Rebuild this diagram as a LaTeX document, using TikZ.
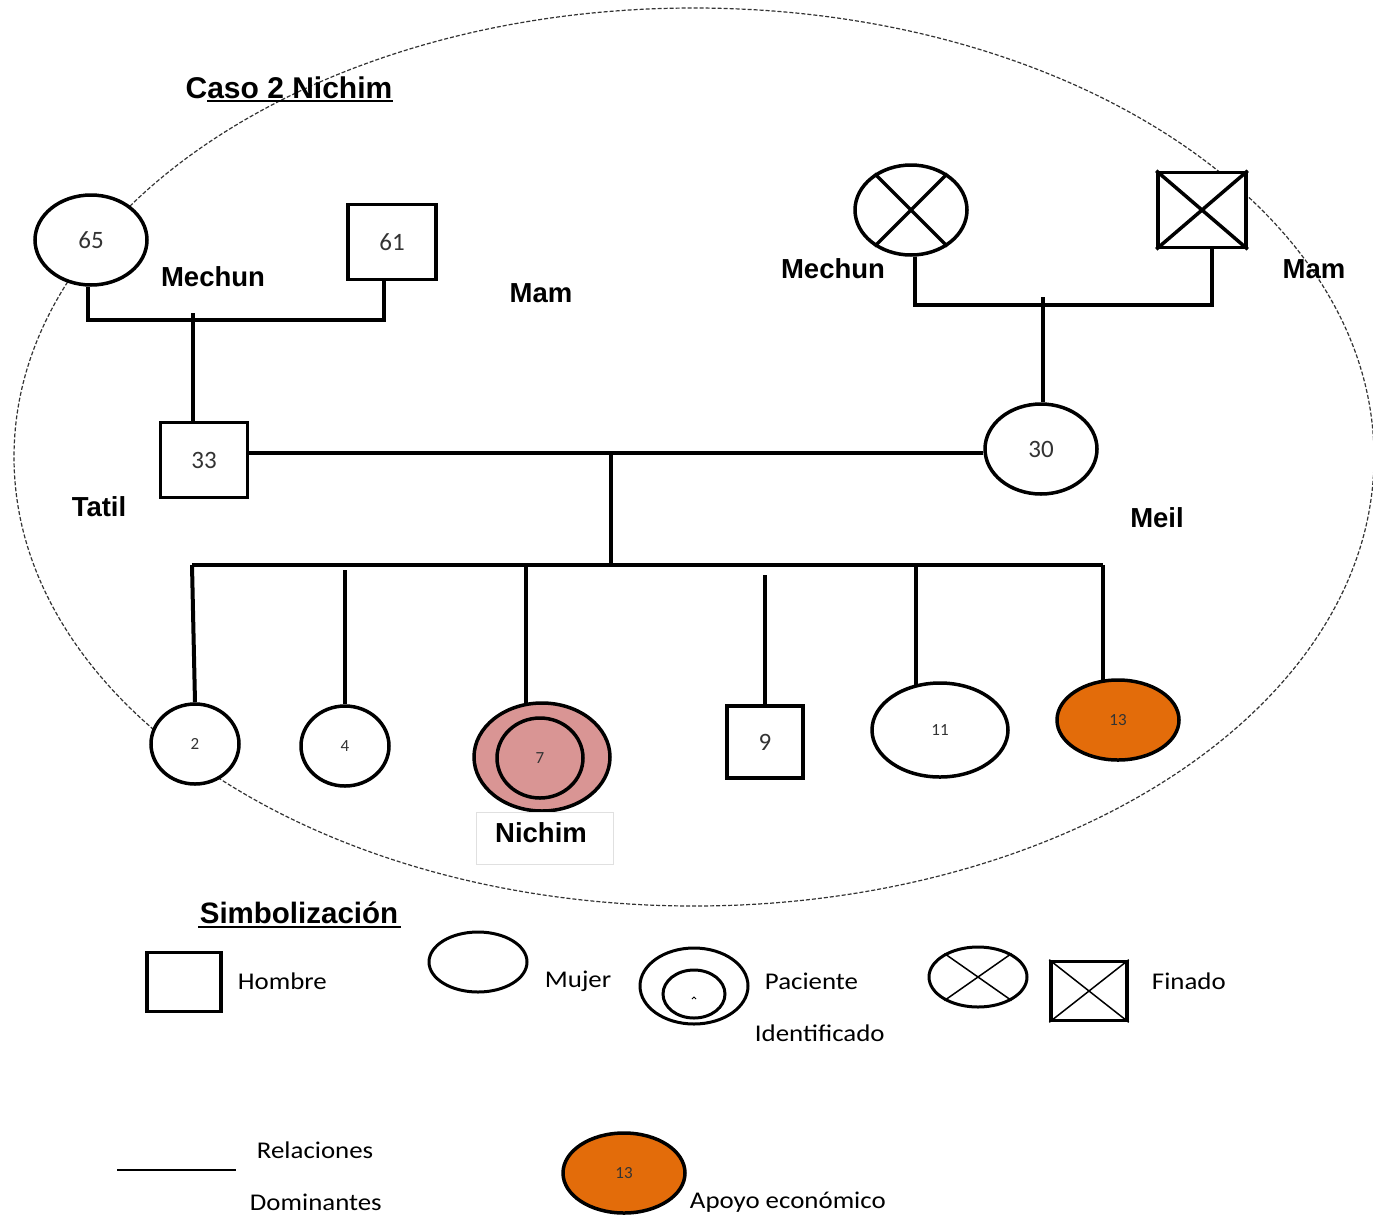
\documentclass[tikz,border=0pt]{standalone}
\usepackage{fontspec}
\setmainfont{Carlito}
\newfontfamily\labelfont{Liberation Sans}
\usetikzlibrary{shapes.geometric}
\definecolor{patientpink}{HTML}{D99594}
\definecolor{supportorange}{HTML}{E36C0A}
\definecolor{numgray}{HTML}{333333}
\tikzset{
  rel/.style={line width=4pt},
  fem/.style={ellipse, draw, line width=3.5pt, inner sep=0pt, fill=white},
  male/.style={rectangle, draw, line width=3.5pt, inner sep=0pt, fill=white},
  age/.style={font=\fontsize{25}{25}\selectfont, text=numgray},
  agesmall/.style={font=\fontsize{17}{17}\selectfont, text=numgray},
  tag/.style={font=\labelfont\bfseries\fontsize{27.5}{27.5}\selectfont},
  legtext/.style={font=\fontsize{24}{24}\selectfont, xscale=1.12, transform shape},
  crossline/.style={line width=3.5pt},
}
\begin{document}
\begin{tikzpicture}[x=1pt,y=-1pt]
\fill[white] (0,0) rectangle (1373,1219);
\useasboundingbox (0,0) rectangle (1373,1219);

% household boundary
\draw[line width=1.2pt, dash pattern=on 4pt off 2pt, black!80] (694,457) ellipse [x radius=680, y radius=449];

% title
\node[font=\labelfont\bfseries\fontsize{30}{30}\selectfont] (title) at (289,88) {Caso 2 Nichim};
\draw[line width=1.5pt] (207,101) -- (393,101);

% paternal grandparents
\node[fem, minimum width=112pt, minimum height=90pt, age] (g65) at (91,240) {65};
\node[male, minimum width=88pt, minimum height=75pt, age] (g61) at (392,242) {61};
\node[tag] (mech1) at (213,277) {Mechun};
\node[tag] (mam1) at (541,293) {Mam};
\coordinate (b1) at (193,320);
\draw[rel] ([xshift=-3pt]g65.south) -- ([xshift=-3pt]g65.south |- b1) -| ([xshift=-8pt]g61.south);

% maternal grandparents (deceased)
\node[fem, minimum width=112pt, minimum height=90pt] (g2f) at (911,210) {};
\draw[crossline] (g2f.45) -- (g2f.225) (g2f.135) -- (g2f.315);
\node[male, minimum width=88pt, minimum height=75pt] (g2m) at (1202,210) {};
\draw[crossline] (g2m.north west) -- (g2m.south east) (g2m.north east) -- (g2m.south west);
\node[tag] (mech2) at (833,269) {Mechun};
\node[tag] (mam2) at (1314,269) {Mam};
\coordinate (b2) at (1043,305);
\draw[rel] ([xshift=4pt]g2f.south) -- ([xshift=4pt]g2f.south |- b2) -| ([xshift=10pt]g2m.south);

% parents
\node[male, minimum width=87pt, minimum height=75pt, age] (p33) at (204,460) {33};
\node[fem, minimum width=112pt, minimum height=90pt, age] (p30) at (1041,449) {30};
\node[tag] (tatil) at (99,507) {Tatil};
\node[tag] (meil) at (1157,518) {Meil};
\draw[rel] ([yshift=7pt]b1) -- (b1 |- p33.north);
\draw[rel] ([yshift=8pt]b2) -- (b2 |- p30.north);
\coordinate (m) at (611,453);
\draw[rel] (p33.east |- m) -- (p30.west |- m);

% children
\coordinate (sb) at (611,565);
\draw[rel] (m) -- (sb);
\draw[rel] (192,565) -- (1103,565);

\node[fem, minimum width=88pt, minimum height=80pt, agesmall] (c2) at (195,744) {2};
\node[fem, minimum width=88pt, minimum height=80pt, agesmall] (c4) at (345,746) {4};
\node[fem, minimum width=136pt, minimum height=108pt, fill=patientpink] (c7) at (542,757) {};
\node[ellipse, draw, line width=3.5pt, minimum width=86pt, minimum height=80pt, inner sep=0pt, agesmall] (c7i) at (540,758) {7};
\node[male, minimum width=76pt, minimum height=72pt, age] (c9) at (765,742) {9};
\node[fem, minimum width=136pt, minimum height=94pt, agesmall] (c11) at (940,730) {11};
\node[fem, minimum width=122pt, minimum height=80pt, fill=supportorange, agesmall] (c13) at (1118,720) {13};

\draw[rel] (192,565) -- (c2.north);
\draw[rel] (345,570) -- (c4.north);
\draw[rel] (526,565) -- (526,705);
\draw[rel] (765,575) -- (c9.north);
\draw[rel] (916,565) -- (916,685);
\draw[rel] (1103,565) -- (1103,682);

\draw[black!12, line width=1pt] (476,812) rectangle (613,864);
\node[tag] (nichim) at (541,833) {Nichim};

% legend
\node[font=\labelfont\bfseries\fontsize{29.5}{29.5}\selectfont] (simb) at (299,913) {Simbolización};
\draw[line width=1.5pt] (198,927) -- (401,927);

\node[male, minimum width=74pt, minimum height=59pt] (lm) at (184,982) {};
\node[legtext, anchor=west] (lmt) at (234,981) {Hombre};
\node[fem, line width=3pt, minimum width=98pt, minimum height=60pt] (lf) at (478,962) {};
\node[legtext, anchor=west] (lft) at (541,981) {Mujer};
\node[fem, line width=3pt, minimum width=108pt, minimum height=76pt] (lp) at (694,986) {};
\node[ellipse, draw, line width=3pt, minimum width=62pt, minimum height=48pt, inner sep=0pt] (lpi) at (694,994) {};
\draw[line width=0.8pt] (692,999) -- (694,997) -- (696,999);
\node[legtext, anchor=west] (lpt) at (761,981) {Paciente};
\node[legtext, anchor=west] (lpt2) at (751,1033) {Identificado};
\node[fem, line width=3pt, minimum width=98pt, minimum height=60pt] (ld) at (978,977) {};
\draw[line width=1.5pt] (ld.35) -- (ld.215) (ld.145) -- (ld.325);
\node[male, minimum width=76pt, minimum height=59pt] (ldm) at (1089,991) {};
\draw[line width=1.5pt] (ldm.north west) -- (ldm.south east) (ldm.north east) -- (ldm.south west);
\node[legtext, anchor=west] (ldt) at (1148,981) {Finado};

\coordinate (r1) at (117,1170);
\coordinate (r2) at (236,1170);
\draw[line width=2.5pt] (r1) -- (r2);
\node[legtext, anchor=west] (rt1) at (253,1150) {Relaciones};
\node[legtext, anchor=west] (rt2) at (246,1202) {Dominantes};
\node[fem, minimum width=122pt, minimum height=80pt, fill=supportorange, agesmall] (la) at (624,1173) {13};
\node[legtext, anchor=west] (lat) at (686,1202) {Apoyo económico};
\end{tikzpicture}
\end{document}
